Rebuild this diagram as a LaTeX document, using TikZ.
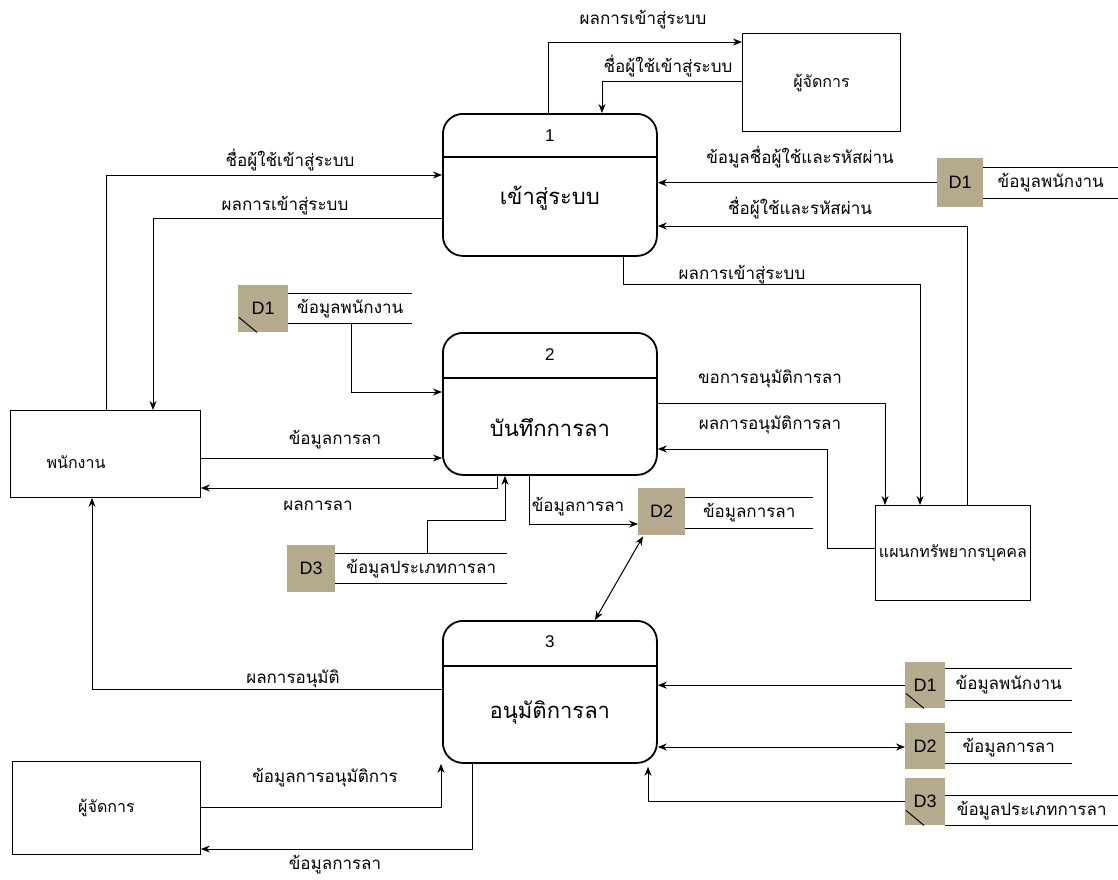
\documentclass[tikz,border=0pt]{standalone}
\usepackage{fontspec}
\setmainfont{Liberation Sans}
\newfontfamily\thaifont[Script=Thai]{Loma}
\usetikzlibrary{arrows.meta,calc}
\definecolor{dtan}{RGB}{181,170,142}
\begin{document}
\begin{tikzpicture}[x=1pt,y=-1pt,
 proc/.style={draw, line width=1.8pt, rounded corners=20pt, minimum width=214pt, minimum height=142pt, anchor=north west, inner sep=0pt},
 ext/.style={draw, line width=0.9pt, anchor=north west, inner sep=0pt, font=\thaifont\fontsize{16}{18}\selectfont},
 dsq/.style={fill=dtan, anchor=north west, inner sep=0pt, font=\fontsize{18}{20}\selectfont},
 slbl/.style={anchor=north west, inner sep=0pt, font=\thaifont\fontsize{17}{19}\selectfont},
 flow/.style={line width=1pt, -{Stealth[length=9pt,width=7pt]}},
 bflow/.style={line width=1pt, {Stealth[length=9pt,width=7pt]}-{Stealth[length=9pt,width=7pt]}},
 lbl/.style={font=\thaifont\fontsize{17}{19}\selectfont, inner sep=1pt},
 pnum/.style={font=\fontsize{17}{19}\selectfont},
 pname/.style={font=\thaifont\fontsize{22}{24}\selectfont},
 slash/.style={line width=1pt}
]
\useasboundingbox[fill=white] (0,0) rectangle (1118,879);

% processes
\node[proc] (p1) at (442,113) {};
\draw[line width=1.8pt] ($(p1.north west)+(0,44)$) -- ($(p1.north east)+(0,44)$);
\node[pnum] (p1n) at ($(p1.north)+(0,23)$) {1};
\node[pname] (p1t) at ($(p1.north)+(0,85)$) {เข้าสู่ระบบ};

\node[proc] (p2) at (442,332) {};
\draw[line width=1.8pt] ($(p2.north west)+(0,46)$) -- ($(p2.north east)+(0,46)$);
\node[pnum] (p2n) at ($(p2.north)+(0,23)$) {2};
\node[pname] (p2t) at ($(p2.north)+(0,96)$) {บันทึกการลา};

\node[proc] (p3) at (442,620) {};
\draw[line width=1.8pt] ($(p3.north west)+(0,46)$) -- ($(p3.north east)+(0,46)$);
\node[pnum] (p3n) at ($(p3.north)+(0,22)$) {3};
\node[pname] (p3t) at ($(p3.north)+(0,93)$) {อนุมัติการลา};

% external entities
\node[ext, minimum width=190pt, minimum height=87pt] (emp) at (10,410) {};
\node[font=\thaifont\fontsize{16}{18}\selectfont] (empt) at (76,462) {พนักงาน};
\node[ext, minimum width=158pt, minimum height=98pt] (mgr1) at (742,33) {ผู้จัดการ};
\node[ext, minimum width=155pt, minimum height=95pt] (hr) at (875,505) {แผนกทรัพยากรบุคคล};
\node[ext, minimum width=188pt, minimum height=93pt] (mgr2) at (12,761) {ผู้จัดการ};

% data stores
\node[dsq, minimum width=46pt, minimum height=49pt] (d1a) at (937,158) {D1};
\node[slbl, minimum width=135pt, minimum height=31pt] (d1al) at (983,167) {ข้อมูลพนักงาน};
\draw (d1al.north west) -- (d1al.north east) (d1al.south west) -- (d1al.south east);

\node[dsq, minimum width=50pt, minimum height=47pt] (d1b) at (238,285) {D1};
\node[slbl, minimum width=124pt, minimum height=30pt] (d1bl) at (288,293) {ข้อมูลพนักงาน};
\draw (d1bl.north west) -- (d1bl.north east) (d1bl.south west) -- (d1bl.south east);
\draw[slash] ($(d1b.south west)+(1,-15)$) -- ($(d1b.south west)+(19,0)$);

\node[dsq, minimum width=47pt, minimum height=47pt] (d2b) at (638,488) {D2};
\node[slbl, minimum width=128pt, minimum height=31pt] (d2bl) at (685,497) {ข้อมูลการลา};
\draw (d2bl.north west) -- (d2bl.north east) (d2bl.south west) -- (d2bl.south east);

\node[dsq, minimum width=48pt, minimum height=47pt] (d3b) at (287,545) {D3};
\node[slbl, minimum width=172pt, minimum height=30pt] (d3bl) at (335,553) {ข้อมูลประเภทการลา};
\draw (d3bl.north west) -- (d3bl.north east) (d3bl.south west) -- (d3bl.south east);

\node[dsq, minimum width=40pt, minimum height=46pt] (d1c) at (905,662) {D1};
\node[slbl, minimum width=127pt, minimum height=32pt] (d1cl) at (945,668) {ข้อมูลพนักงาน};
\draw (d1cl.north west) -- (d1cl.north east) (d1cl.south west) -- (d1cl.south east);
\draw[slash] ($(d1c.south west)+(1,-15)$) -- ($(d1c.south west)+(19,0)$);

\node[dsq, minimum width=40pt, minimum height=46pt] (d2c) at (905,723) {D2};
\node[slbl, minimum width=127pt, minimum height=31pt] (d2cl) at (945,732) {ข้อมูลการลา};
\draw (d2cl.north west) -- (d2cl.north east) (d2cl.south west) -- (d2cl.south east);

\node[dsq, minimum width=40pt, minimum height=47pt] (d3c) at (905,778) {D3};
\node[slbl, minimum width=173pt, minimum height=30pt] (d3cl) at (945,795) {ข้อมูลประเภทการลา};
\draw (d3cl.north west) -- (d3cl.north east) (d3cl.south west) -- (d3cl.south east);
\draw[slash] ($(d3c.south west)+(1,-15)$) -- ($(d3c.south west)+(19,0)$);

% flows around process 1
\draw[flow] (548,0 |- p1.north) |- (mgr1.west |- 0,42);
\node[lbl] (l1) at (643,20) {ผลการเข้าสู่ระบบ};
\draw[flow] (mgr1.west |- 0,81) -| (602,0 |- p1.north);
\node[lbl] (l2) at (668,66) {ชื่อผู้ใช้เข้าสู่ระบบ};
\draw[flow] (106,0 |- emp.north) |- (p1.west |- 0,175);
\node[lbl] (l3) at (290,160) {ชื่อผู้ใช้เข้าสู่ระบบ};
\draw[flow] (p1.west |- 0,218) -| (153,0 |- emp.north);
\node[lbl] (l4) at (285,206) {ผลการเข้าสู่ระบบ};
\draw[flow] (d1a.west) -- (p1.east |- d1a.west);
\node[lbl] (l5) at (800,157) {ข้อมูลชื่อผู้ใช้และรหัสผ่าน};
\draw[flow] (967,0 |- hr.north) |- (p1.east |- 0,226);
\node[lbl] (l6) at (800,208) {ชื่อผู้ใช้และรหัสผ่าน};
\draw[flow] (623,0 |- p1.south) |- (920,284) -- (920,0 |- hr.north);
\node[lbl] (l7) at (742,275) {ผลการเข้าสู่ระบบ};

% flows around process 2
\draw[flow] (351,0 |- d1bl.south) |- (p2.west |- 0,392);
\draw[flow] (427,0 |- d3bl.north) |- (505,520) -- (505,0 |- p2.south);
\draw[flow] (emp.east |- 0,458) -- (p2.west |- 0,458);
\node[lbl] (l8) at (335,440) {ข้อมูลการลา};
\draw[flow] (497,0 |- p2.south) |- (emp.east |- 0,488);
\node[lbl] (l9) at (318,506) {ผลการลา};
\draw[flow] (529,0 |- p2.south) |- (d2b.west |- 0,524);
\node[lbl] (l10) at (578,507) {ข้อมูลการลา};
\draw[flow] (p2.east |- 0,403) -| (885,0 |- hr.north);
\node[lbl] (l11) at (770,379) {ขอการอนุมัติการลา};
\draw[flow] (hr.west |- 0,548) -| (827,449) -- (p2.east |- 0,449);
\node[lbl] (l12) at (770,425) {ผลการอนุมัติการลา};

% flows around process 3
\draw[bflow] ($(d2b.south west)+(5,1)$) -- (595,0 |- p3.north);
\draw[flow] (p3.west |- 0,689) -| (92,0 |- emp.south);
\node[lbl] (l13) at (293,679) {ผลการอนุมัติ};
\draw[flow] (d1c.west) -- (p3.east |- d1c.west);
\draw[bflow] (p3.east |- 0,747) -- (d2c.west |- 0,747);
\draw[flow, shorten >=3pt] (d3c.west) -| (648,0 |- p3.south);
\draw[flow] (mgr2.east |- 0,807) -| (441,0 |- p3.south);
\node[lbl] (l14) at (325,778) {ข้อมูลการอนุมัติการ};
\draw[flow] (472,0 |- p3.south) |- (mgr2.east |- 0,849);
\node[lbl] (l15) at (335,865) {ข้อมูลการลา};
\end{tikzpicture}
\end{document}
